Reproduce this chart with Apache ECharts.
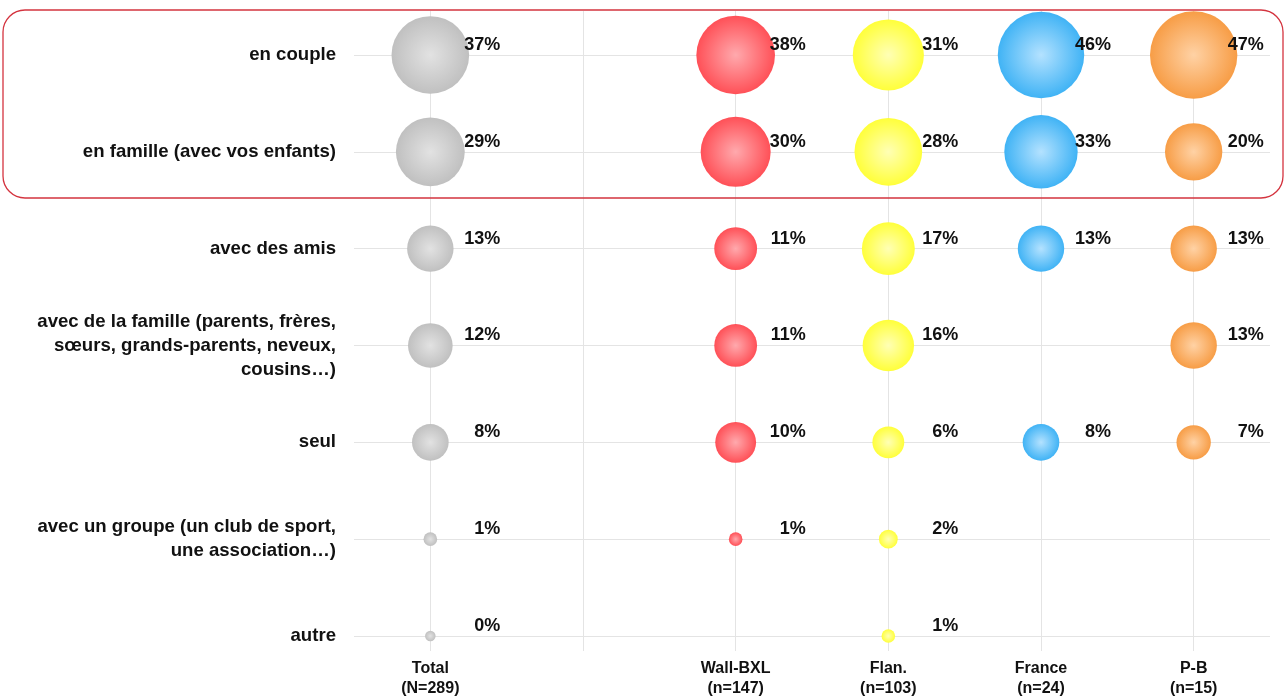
<!DOCTYPE html>
<html>
<head>
<meta charset="utf-8">
<script src="https://cdn.jsdelivr.net/npm/echarts@6/dist/echarts.min.js"></script>
<style>html,body{margin:0;padding:0;background:#fff;}#c{width:1285px;height:699px;}</style>
</head>
<body>
<div id="c"></div>
<script>
const rows = [
  "en couple",
  "en famille (avec vos enfants)",
  "avec des amis",
  "avec de la famille (parents, frères,\nsœurs, grands-parents, neveux,\ncousins…)",
  "seul",
  "avec un groupe (un club de sport,\nune association…)",
  "autre"
];
const columns = ["Total\n(N=289)", "", "Wall-BXL\n(n=147)", "Flan.\n(n=103)", "France\n(n=24)", "P-B\n(n=15)"];
const totalVals  = [37, 29, 13, 12, 8, 1, 0];
const wallVals   = [38, 30, 11, 11, 10, 1, null];
const flanVals   = [31, 28, 17, 16, 6, 2, 1];
const franceVals = [46, 33, 13, null, 8, null, null];
const pbVals     = [47, 20, 13, 13, 7, null, null];

const seriesDefs = [
  {name: "Total", col: 0, vals: totalVals, edge: "#c0c0c0", center: "#e2e2e2"},
  {name: "Wall-BXL", col: 2, vals: wallVals, edge: "#ff5057", center: "#ffa9ad"},
  {name: "Flan.", col: 3, vals: flanVals, edge: "#ffff3a", center: "#ffffb5"},
  {name: "France", col: 4, vals: franceVals, edge: "#40b3f5", center: "#b4e2ff"},
  {name: "P-B", col: 5, vals: pbVals, edge: "#f79d46", center: "#ffd2a5"}
];

const FONT = 'Liberation Sans, Arial, sans-serif';
const chart = echarts.init(document.getElementById('c'));
const series = [{
  type: 'line', data: [], z: 0, silent: true,
  markLine: {
    symbol: 'none', silent: true, animation: false, z: 0,
    label: {show: false},
    lineStyle: {color: '#e4e4e4', width: 1, type: 'solid'},
    data: rows.map((_, i) => ({yAxis: i})).concat(columns.map((_, i) => ({xAxis: i})))
  }
}];
seriesDefs.forEach(s => {
  const data = [];
  s.vals.forEach((v, i) => { if (v !== null) data.push([s.col, i, v]); });
  series.push({
    type: 'scatter', name: s.name, z: 6, data: data,
    symbolSize: d => Math.max(10.5, 12.6 * Math.sqrt(d[2]) + 1),
    itemStyle: {
      opacity: 1,
      color: {type: 'radial', x: 0.5, y: 0.5, r: 0.5,
        colorStops: [{offset: 0, color: s.center}, {offset: 1, color: s.edge}]}
    },
    label: {
      show: true, position: 'inside', align: 'right', verticalAlign: 'middle',
      offset: [70, -10], formatter: p => p.data[2] + '%',
      fontFamily: FONT, fontWeight: 'bold', fontSize: 18, color: '#111'
    }
  });
});

chart.setOption({
  animation: false,
  grid: {left: 354, right: 15, top: 11, bottom: 47},
  xAxis: {
    type: 'value', min: -0.5, max: 5.5,
    splitLine: {show: false}, axisLine: {show: false}, axisTick: {show: false},
    axisLabel: {
      customValues: columns.map((_, i) => i),
      formatter: v => columns[Math.round(v)] || '',
      fontFamily: FONT, fontWeight: 'bold', fontSize: 16,
      color: '#111', lineHeight: 20, margin: 8
    }
  },
  yAxis: {
    type: 'value', inverse: true, min: -0.454, max: 6.155,
    splitLine: {show: false}, axisLine: {show: false}, axisTick: {show: false},
    axisLabel: {
      customValues: rows.map((_, i) => i),
      formatter: v => rows[Math.round(v)] || '',
      fontFamily: FONT, fontWeight: 'bold', fontSize: 18.6,
      color: '#111', lineHeight: 24, margin: 18, align: 'right'
    }
  },
  graphic: [{
    type: 'rect', z: 10, silent: true,
    shape: {x: 3, y: 10, width: 1280, height: 188, r: 22},
    style: {fill: 'none', stroke: '#d4343f', lineWidth: 1.3}
  }],
  series: series
});
</script>
</body>
</html>
